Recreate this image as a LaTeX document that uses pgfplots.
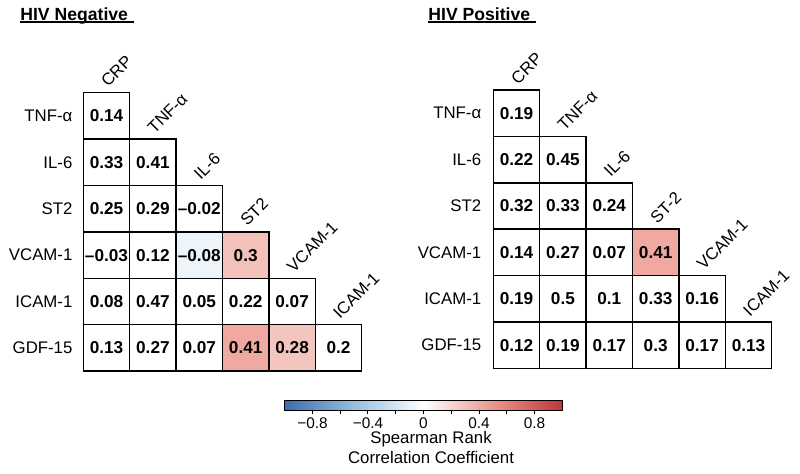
\documentclass[border=0pt]{standalone}
\usepackage{fontspec}
\setmainfont{Liberation Sans}
\usepackage{pgfplots}
\pgfplotsset{compat=1.18}
\usepackage{pgfplotstable}

\pgfplotsset{
  colormap={rdbu}{rgb255(0cm)=(60,110,175); rgb255(1cm)=(150,190,225); rgb255(2cm)=(255,255,255); rgb255(3cm)=(235,150,140); rgb255(4cm)=(190,55,55)},
}

% x = column, y = row, r = Spearman rho, m = colour value (0 = white, not significant)
\pgfplotstableread{
x y r m
0 0 0.14 0
0 1 0.33 0
1 1 0.41 0
0 2 0.25 0
1 2 0.29 0
2 2 -0.02 0
0 3 -0.03 0
1 3 0.12 0
2 3 -0.08 -0.08
3 3 0.3 0.3
0 4 0.08 0
1 4 0.47 0
2 4 0.05 0
3 4 0.22 0
4 4 0.07 0
0 5 0.13 0
1 5 0.27 0
2 5 0.07 0
3 5 0.41 0.41
4 5 0.28 0.28
5 5 0.2 0
}\negtab

\pgfplotstableread{
x y r m
0 0 0.19 0
0 1 0.22 0
1 1 0.45 0
0 2 0.32 0
1 2 0.33 0
2 2 0.24 0
0 3 0.14 0
1 3 0.27 0
2 3 0.07 0
3 3 0.41 0.41
0 4 0.19 0
1 4 0.5 0
2 4 0.1 0
3 4 0.33 0
4 4 0.16 0
0 5 0.12 0
1 5 0.19 0
2 5 0.17 0
3 5 0.3 0
4 5 0.17 0
5 5 0.13 0
}\postab

\def\cellfmt#1{\expandafter\cellfmtA#1\relax}
\def\cellfmtA#1#2\relax{\ifx-#1\textendash#2\else#1#2\fi}

\tikzset{
  colab/.style={rotate=45, anchor=base west, inner sep=0pt,
    font=\fontsize{8.4}{10}\selectfont},
}

\pgfplotsset{
  hmmat/.style={
    scale only axis, width=139.2pt, height=139.2pt,
    xmin=-0.5, xmax=5.5, ymin=-0.5, ymax=5.5, y dir=reverse,
    axis line style={draw=none}, xtick=\empty, ytick={0,...,5},
    major tick length=0pt, clip=false,
    yticklabel style={font=\fontsize{8.4}{10}\selectfont},
    colormap name=rdbu, point meta min=-1, point meta max=1,
  },
  hmcells/.style={scatter, only marks, mark=square*, mark size=11.6pt,
    line width=0.75pt,
    scatter/use mapped color={draw=black, fill=mapped color},
    point meta=explicit},
  hmvals/.style={draw=none, mark=none, point meta=explicit symbolic,
    nodes near coords={\cellfmt{\pgfplotspointmeta}},
    nodes near coords style={anchor=center, inner sep=0pt,
      font=\bfseries\fontsize{8.6}{10}\selectfont}},
}

\begin{document}
\begin{tikzpicture}
\useasboundingbox (0,0) rectangle (400pt,236.5pt);

% titles
\node[anchor=base west, inner sep=0pt, font=\bfseries\fontsize{8.8}{10}\selectfont]
  at (10pt,226.5pt) {\rlap{\rule[-1.3pt]{57pt}{0.75pt}}HIV Negative};
\node[anchor=base west, inner sep=0pt, font=\bfseries\fontsize{8.8}{10}\selectfont]
  at (214pt,226.5pt) {\rlap{\rule[-1.3pt]{54pt}{0.75pt}}HIV Positive};

% HIV negative
\begin{axis}[hmmat, at={(41.65pt,190.15pt)}, anchor=north west,
  yticklabels={TNF-α,IL-6,ST2,VCAM-1,ICAM-1,GDF-15},
  yticklabel style={xshift=-1.9pt}]
\addplot[hmcells] table[x=x,y=y,meta=m] {\negtab};
\addplot[hmvals] table[x=x,y=y,meta=r] {\negtab};
\node[colab] at (axis cs:0.03,-0.6) {CRP};
\node[colab] at (axis cs:1.03,0.4) {TNF-α};
\node[colab] at (axis cs:2.03,1.4) {IL-6};
\node[colab] at (axis cs:3.03,2.4) {ST2};
\node[colab] at (axis cs:4.03,3.4) {VCAM-1};
\node[colab] at (axis cs:5.03,4.4) {ICAM-1};
\end{axis}

% HIV positive
\begin{axis}[hmmat, at={(246.65pt,191.5pt)}, anchor=north west,
  yticklabels={TNF-α,IL-6,ST2,VCAM-1,ICAM-1,GDF-15},
  yticklabel style={xshift=-2.5pt}]
\addplot[hmcells] table[x=x,y=y,meta=m] {\postab};
\addplot[hmvals] table[x=x,y=y,meta=r] {\postab};
\node[colab] at (axis cs:0.03,-0.6) {CRP};
\node[colab] at (axis cs:1.03,0.4) {TNF-α};
\node[colab] at (axis cs:2.03,1.4) {IL-6};
\node[colab] at (axis cs:3.03,2.4) {ST-2};
\node[colab] at (axis cs:4.03,3.4) {VCAM-1};
\node[colab] at (axis cs:5.03,4.4) {ICAM-1};
\end{axis}

% colour bar
\begin{axis}[at={(142.35pt,36.85pt)}, anchor=north west,
  scale only axis, width=138.8pt, height=5.35pt, hide axis,
  xmin=-1, xmax=1, ymin=0, ymax=1,
  colormap name=rdbu, point meta min=-1, point meta max=1,
  colorbar horizontal,
  colorbar style={
    at={(parent axis.north west)}, anchor=north west, yshift=8pt,
    scale only axis, width=138.8pt, height=5pt,
    xtick={-0.8,-0.4,0,0.4,0.8},
    xticklabels={−0.8,−0.4,0,0.4,0.8},
    minor xtick={-0.6,-0.2,0.2,0.6},
    xtick pos=left, ytick=\empty,
    tick align=outside, major tick length=1.6pt, minor tick length=1.6pt,
    tick style={black, line width=0.5pt},
    axis line style={line width=0.6pt},
    xticklabel style={font=\fontsize{7.7}{8}\selectfont, yshift=1.4pt},
  }]
\addplot[draw=none, mark=none] coordinates {(0,0.5)};
\end{axis}

\node[anchor=base, inner sep=0pt, font=\fontsize{8.4}{10}\selectfont] at (215.5pt,14.85pt) {Spearman Rank};
\node[anchor=base, inner sep=0pt, font=\fontsize{8.4}{10}\selectfont] at (215.5pt,4.85pt) {Correlation Coefficient};
\end{tikzpicture}
\end{document}
